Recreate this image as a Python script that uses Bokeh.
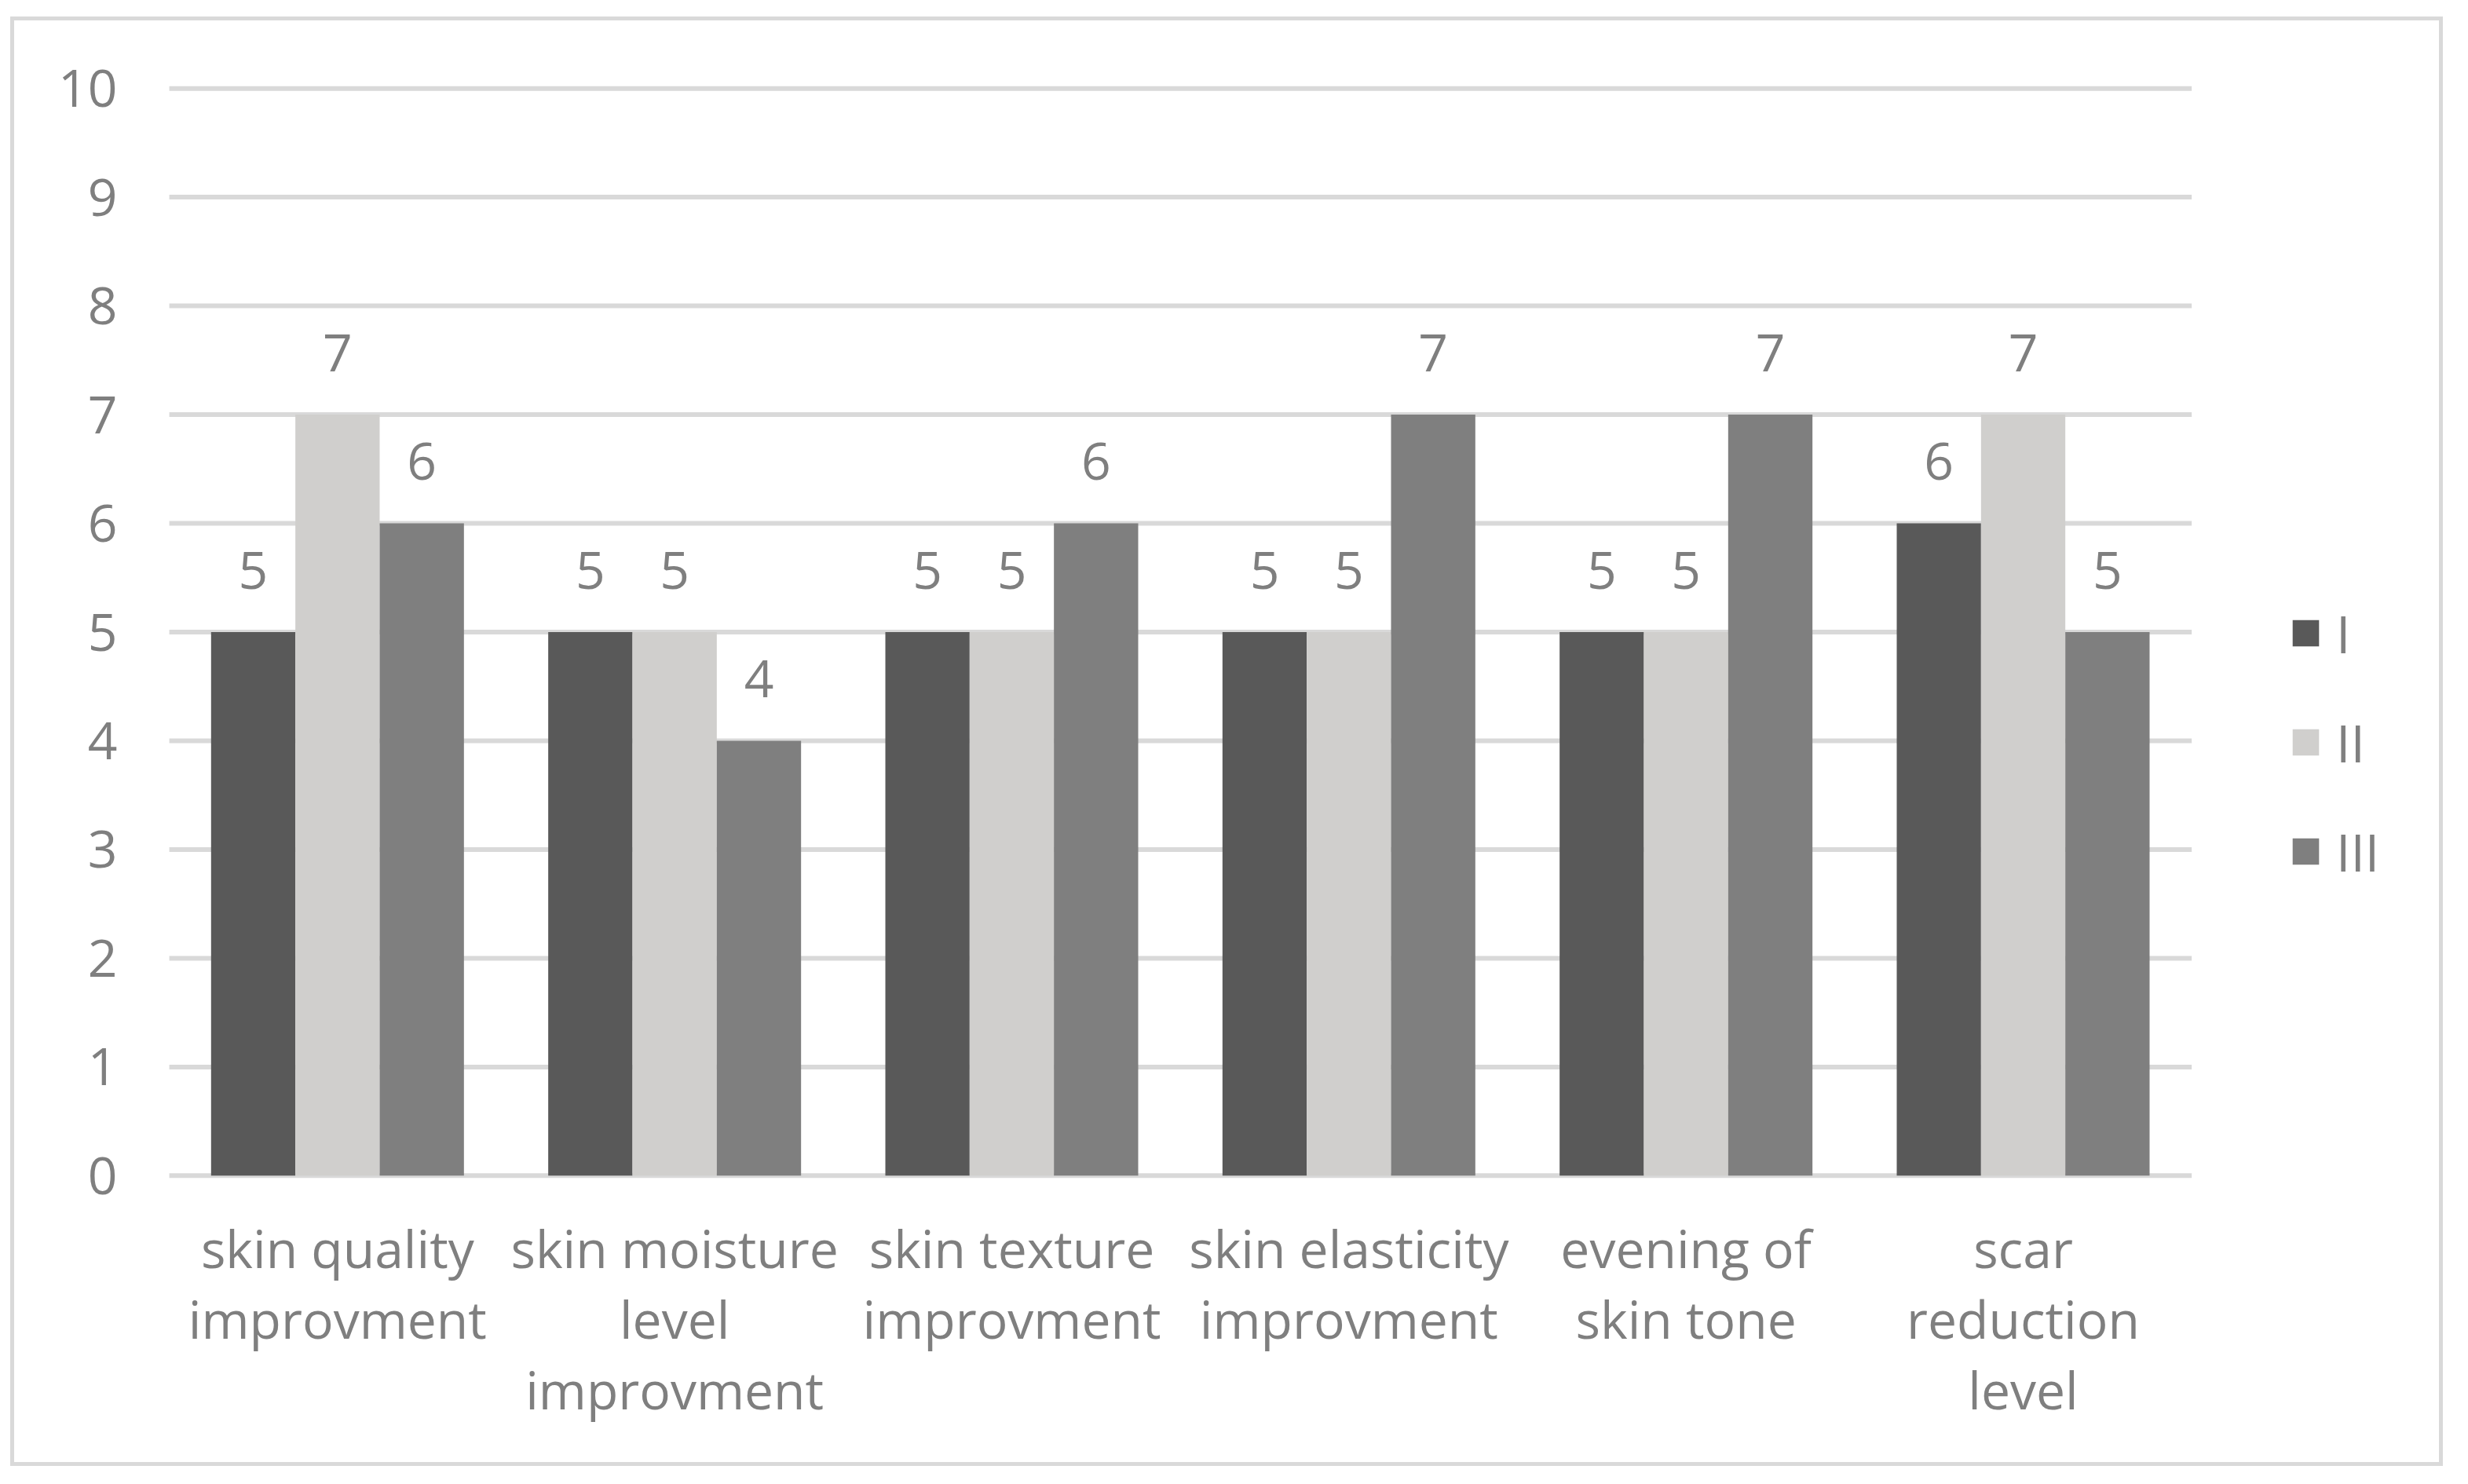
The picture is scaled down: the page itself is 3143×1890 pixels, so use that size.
from bokeh.plotting import figure
from bokeh.models import ColumnDataSource, FactorRange, Range1d, FixedTicker, Legend, LegendItem
from bokeh.transform import dodge
from bokeh.embed import file_html
from bokeh.resources import INLINE
from bokeh.core.properties import value

categories = [
    "skin quality\nimprovment",
    "skin moisture\nlevel\nimprovment",
    "skin texture\nimprovment",
    "skin elasticity\nimprovment",
    "evening of\nskin tone",
    "scar\nreduction\nlevel",
]
series_names = ["I", "II", "III"]
values_I = [5, 5, 5, 5, 5, 6]
values_II = [7, 5, 5, 5, 5, 7]
values_III = [6, 4, 6, 7, 7, 5]
y_ticks = [0, 1, 2, 3, 4, 5, 6, 7, 8, 9, 10]

colors = ["#595959", "#d0cfcd", "#7f7f7f"]
text_color = "#7f7f7f"
grid_color = "#d9d9d9"
FONT = "Open Sans"
FS = "66px"

# Categories live in one group; an empty trailing group gives the frame room on the
# right for the legend (annotations inside the plot are clipped to the frame).
FACTOR_PAD = 0.3183           # gap between categories (synthetic units)
STEP = 1 + FACTOR_PAD         # distance between category centres
cat_factors = [("", c) for c in categories]
spare_factor = (" ", "")

src = ColumnDataSource(data=dict(
    cat=cat_factors,
    I=values_I, II=values_II, III=values_III,
    I_lbl=[str(v) for v in values_I],
    II_lbl=[str(v) for v in values_II],
    III_lbl=[str(v) for v in values_III],
))
grid_src = ColumnDataSource(data=dict(
    y=y_ticks,
    first=[cat_factors[0]] * len(y_ticks),
    last=[cat_factors[-1]] * len(y_ticks),
))

xr = FactorRange(*(cat_factors + [spare_factor]),
                 factor_padding=FACTOR_PAD, group_padding=0,
                 range_padding=0.1581, range_padding_units="absolute")

p = figure(
    x_range=xr,
    y_range=Range1d(-0.03, 10.03),
    width=3098, height=1846,
    output_backend="svg", toolbar_location=None,
    min_border_left=197, min_border_right=0,
    min_border_top=82, min_border_bottom=371,
)
p.margin = (21, 0, 0, 13)
p.styles = {"border": "5px solid #d9d9d9"}
p.outline_line_color = None
p.background_fill_color = "white"
p.border_fill_color = "white"

# horizontal gridlines spanning the category area only
p.segment(x0=dodge("first", -STEP / 2, range=p.x_range), y0="y",
          x1=dodge("last", STEP / 2, range=p.x_range), y1="y",
          source=grid_src, line_color=grid_color, line_width=6, level="underlay")

offsets = [-0.25 * STEP, 0.0, 0.25 * STEP]
renderers = []
for name, off, col in zip(series_names, offsets, colors):
    r = p.vbar(x=dodge("cat", off, range=p.x_range), top=name, width=0.25 * STEP,
               source=src, fill_color=col, line_color=None)
    renderers.append(r)
    p.text(x=dodge("cat", off, range=p.x_range), y=name, text=name + "_lbl", source=src,
           text_align="center", text_baseline="alphabetic", y_offset=-79,
           text_font=value(FONT), text_font_size=FS, text_color=text_color)

# axes
p.yaxis.ticker = FixedTicker(ticks=y_ticks)
p.yaxis.axis_line_color = None
p.yaxis.major_tick_line_color = None
p.yaxis.minor_tick_line_color = None
p.yaxis.major_tick_out = 0
p.yaxis.major_label_standoff = 66
p.yaxis.major_label_text_font = FONT
p.yaxis.major_label_text_font_size = FS
p.yaxis.major_label_text_color = text_color

p.xaxis.axis_line_color = None
p.xaxis.major_tick_line_color = None
p.xaxis.major_tick_out = 0
p.xaxis.major_label_standoff = 42
p.xaxis.major_label_text_font = FONT
p.xaxis.major_label_text_font_size = FS
p.xaxis.major_label_text_color = text_color
p.xaxis.major_label_text_line_height = 1.0
p.xaxis.major_label_orientation = "horizontal"
p.xaxis.group_text_alpha = 0
p.xaxis.group_text_font_size = "1px"
p.xaxis.separator_line_color = None

p.xgrid.grid_line_color = None
p.ygrid.grid_line_color = None

legend = Legend(
    items=[LegendItem(label=n, renderers=[r]) for n, r in zip(series_names, renderers)],
    location=(2700, 372),
    orientation="vertical",
    glyph_width=42, glyph_height=42,
    label_standoff=18, spacing=49, padding=0, margin=0,
    label_text_font=FONT, label_text_font_size=FS, label_text_color=text_color,
    border_line_color=None, background_fill_alpha=0,
)
p.add_layout(legend, "center")

open("out.html", "w").write(file_html(p, INLINE))
